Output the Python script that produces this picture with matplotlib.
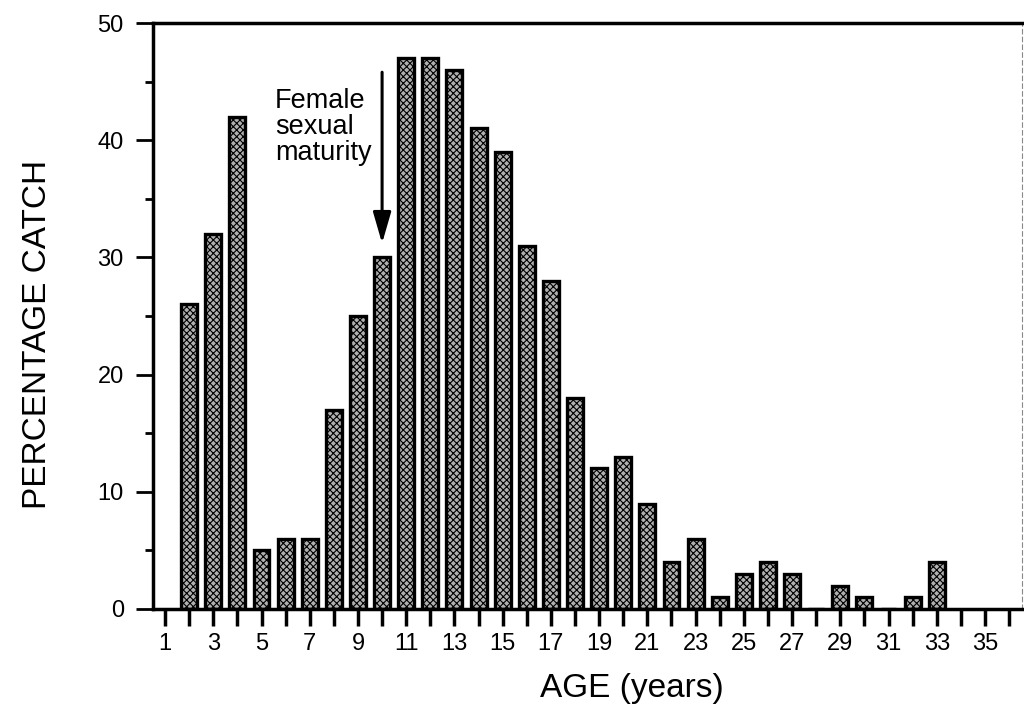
import numpy as np
import matplotlib.pyplot as plt
from matplotlib.ticker import MultipleLocator

# возраст (лет) и доля улова, %
ages = list(range(2, 34))
catch = [26, 32, 42, 5, 6, 6, 17, 25, 30, 47, 47, 46, 41, 39, 31, 28,
         18, 12, 13, 9, 4, 6, 1, 3, 4, 3, 0, 2, 1, 0, 1, 4]
x_ticks = list(range(1, 36, 2))
y_ticks = [0, 10, 20, 30, 40, 50]

plt.rcParams["font.family"] = ["Liberation Sans", "DejaVu Sans"]
plt.rcParams["hatch.linewidth"] = 0.8
plt.rcParams["hatch.color"] = "#1a1a1a"

fig = plt.figure(figsize=(10.24, 7.19), dpi=100)
ax = fig.add_axes([0.1494, 0.153, 0.849, 0.815])

ax.bar(ages, catch, width=0.66, facecolor="#b0b0b0", edgecolor="black",
       linewidth=2.4, hatch="xxxxx", zorder=2)

ax.set_xlim(0.5, 36.55)
ax.set_ylim(0, 50)
ax.set_xticks(x_ticks)
ax.xaxis.set_minor_locator(MultipleLocator(1))
ax.set_yticks(y_ticks)
ax.yaxis.set_minor_locator(MultipleLocator(5))

ax.tick_params(axis="x", which="both", direction="out", length=12, width=2.5,
               labelsize=17, pad=5)
ax.tick_params(axis="y", which="major", direction="out", length=12, width=2,
               labelsize=17, pad=9)
ax.tick_params(axis="y", which="minor", direction="out", length=6, width=2)

for side in ["left", "bottom", "top"]:
    ax.spines[side].set_linewidth(2.5)
    ax.spines[side].set_color("black")
ax.spines["right"].set_linestyle((0, (4, 3)))
ax.spines["right"].set_linewidth(0.8)
ax.spines["right"].set_color("#888888")

ax.set_xlabel("AGE (years)", fontsize=24, labelpad=13)
ax.xaxis.label.set_x(0.551)
ax.set_ylabel("PERCENTAGE CATCH", fontsize=24, labelpad=32)
ax.yaxis.label.set_y(0.468)

# стрелка и подпись
ax.annotate("", xy=(10, 31.2), xytext=(10, 45.8),
            arrowprops=dict(arrowstyle="-|>,head_length=1.9,head_width=0.55",
                            color="black", lw=2.2, shrinkA=0, shrinkB=0))
ax.text(5.55, 44.45, "Female\nsexual\nmaturity", fontsize=19.5, ha="left", va="top",
        linespacing=1.0)

fig.savefig("out.png", dpi=100)
